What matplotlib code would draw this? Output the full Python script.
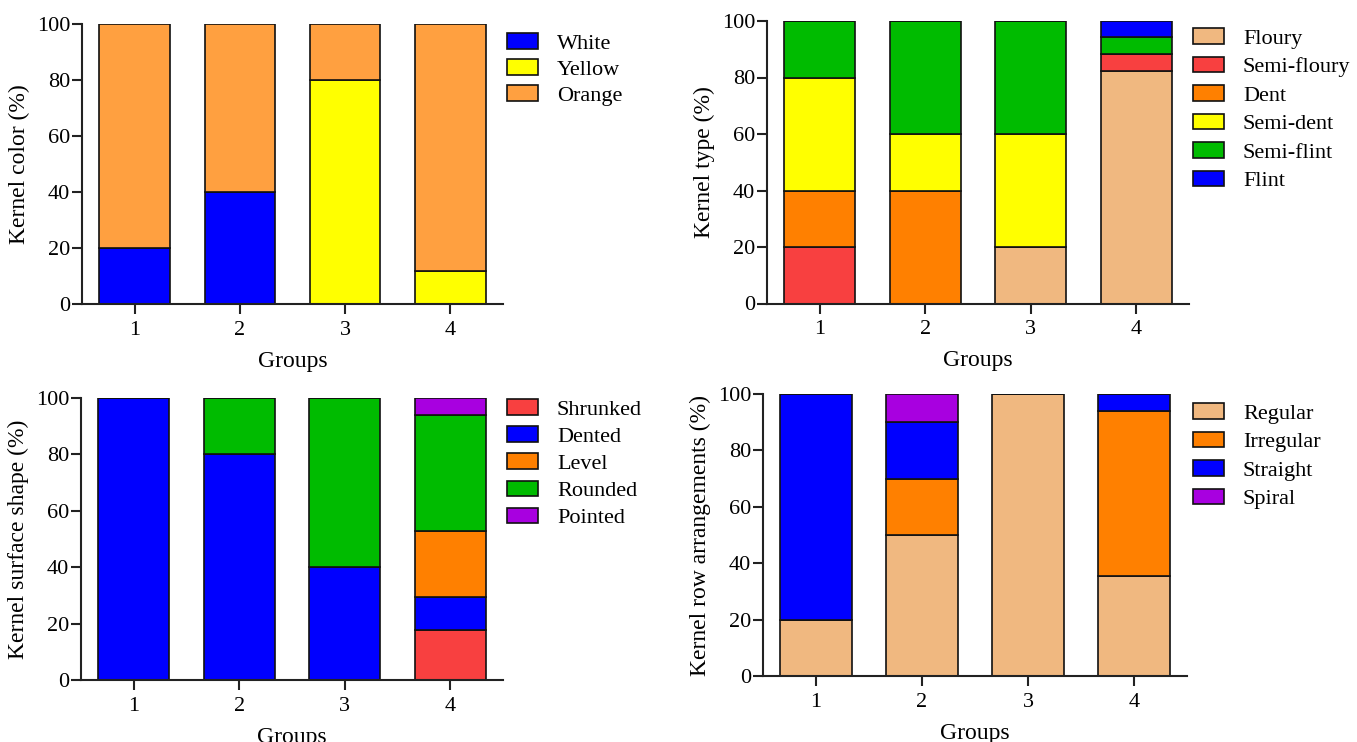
import numpy as np
import matplotlib
matplotlib.use('Agg')
import matplotlib.pyplot as plt

plt.rcParams['font.family'] = ['Liberation Serif', 'DejaVu Serif']

# Data (percent of accessions per group)
groups = ['1', '2', '3', '4']

color_labels = ['White', 'Yellow', 'Orange']
color_values = [
    [20, 40, 0, 0],        # White
    [0, 0, 80, 11.8],      # Yellow
    [80, 60, 20, 88.2],    # Orange
]
color_colors = ['#0000FF', '#FFFF00', '#FFA040']

type_labels = ['Floury', 'Semi-floury', 'Dent', 'Semi-dent', 'Semi-flint', 'Flint']
type_values = [
    [0, 0, 20, 82.4],      # Floury
    [20, 0, 0, 5.9],       # Semi-floury
    [20, 40, 0, 0],        # Dent
    [40, 20, 40, 0],       # Semi-dent
    [20, 40, 40, 5.9],     # Semi-flint
    [0, 0, 0, 5.8],        # Flint
]
type_colors = ['#F0B880', '#F84040', '#FF8000', '#FFFF00', '#00BB00', '#0000FF']

shape_labels = ['Shrunked', 'Dented', 'Level', 'Rounded', 'Pointed']
shape_values = [
    [0, 0, 0, 17.6],       # Shrunked
    [100, 80, 40, 11.8],   # Dented
    [0, 0, 0, 23.5],       # Level
    [0, 20, 60, 41.2],     # Rounded
    [0, 0, 0, 5.9],        # Pointed
]
shape_colors = ['#F84040', '#0000FF', '#FF8000', '#00BB00', '#A800E0']

row_labels = ['Regular', 'Irregular', 'Straight', 'Spiral']
row_values = [
    [20, 50, 100, 35.3],   # Regular
    [0, 20, 0, 58.8],      # Irregular
    [80, 20, 0, 5.9],      # Straight
    [0, 10, 0, 0],         # Spiral
]
row_colors = ['#F0B880', '#FF8000', '#0000FF', '#A800E0']

W, H = 1357, 742
fig = plt.figure(figsize=(W / 100, H / 100), dpi=100)


def px_axes(left, right, bottom, top):
    return fig.add_axes([left / W, 1 - bottom / H, (right - left) / W, (bottom - top) / H])


def stacked(ax, labels, values, colors, ylabel, leg_x, leg_y, spacing):
    x = np.arange(1, len(groups) + 1)
    base = np.zeros(len(groups))
    for lab, vals, col in zip(labels, values, colors):
        vals = np.array(vals, dtype=float)
        ax.bar(x, vals, bottom=base, width=0.67, color=col, edgecolor='#111111',
               linewidth=1.2, label=lab)
        base += vals
    ax.set_xlim(0.5, 4.5)
    ax.set_ylim(0, 100)
    ax.set_yticks(range(0, 101, 20))
    ax.set_xticks(x)
    ax.set_xticklabels(groups)
    ax.spines['top'].set_visible(False)
    ax.spines['right'].set_visible(False)
    for s in ['left', 'bottom']:
        ax.spines[s].set_linewidth(1.5)
        ax.spines[s].set_color('#222222')
    ax.tick_params(direction='out', length=7, width=1.5, color='#222222',
                   labelsize=16)
    ax.tick_params(axis='y', pad=1.5)
    ax.tick_params(axis='x', pad=5)
    ax.set_ylabel(ylabel, fontsize=17, labelpad=5)
    ax.set_xlabel('Groups', fontsize=17, labelpad=8)
    ax.legend(loc='upper left', bbox_to_anchor=(leg_x / W, 1 - leg_y / H),
              bbox_transform=fig.transFigure, frameon=False, fontsize=16,
              handlelength=1.4, handleheight=0.7, handletextpad=0.85,
              labelspacing=spacing, borderaxespad=0, borderpad=0)


ax1 = px_axes(82, 503, 304, 24)
stacked(ax1, color_labels, color_values, color_colors, 'Kernel color (%)', 507, 33, 0.25)

ax2 = px_axes(767, 1189, 303.5, 21)
stacked(ax2, type_labels, type_values, type_colors, 'Kernel type (%)', 1193, 28, 0.36)

ax3 = px_axes(81, 503, 680, 398)
stacked(ax3, shape_labels, shape_values, shape_colors, 'Kernel surface shape (%)', 507, 399, 0.3)

ax4 = px_axes(763, 1187, 676, 394)
stacked(ax4, row_labels, row_values, row_colors, 'Kernel row arrangements (%)', 1193, 403, 0.36)

fig.savefig('out.png', dpi=100)
